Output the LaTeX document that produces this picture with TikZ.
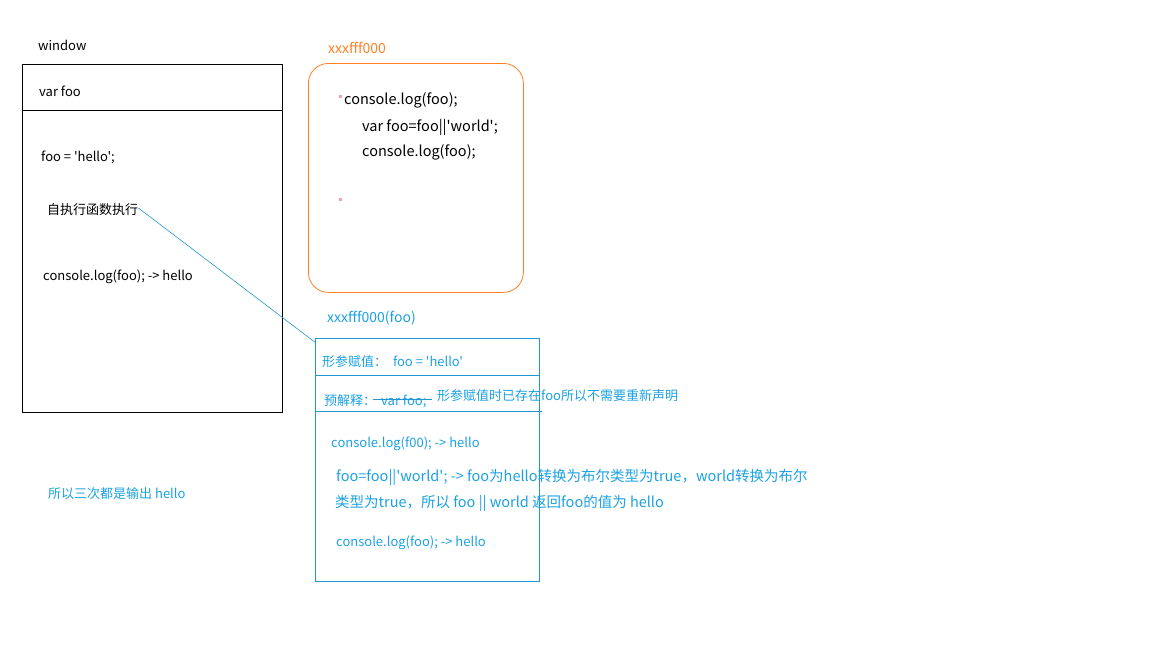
\documentclass[tikz,border=0pt]{standalone}
\usepackage{fontspec}
\setmainfont{Noto Sans CJK SC}[Ligatures=TeXOff]
\definecolor{myblue}{RGB}{27,161,226}
\definecolor{lineblue}{RGB}{33,150,211}
\definecolor{myorange}{RGB}{255,128,39}
\definecolor{mypink}{RGB}{248,160,170}
\begin{document}
\begin{tikzpicture}[x=1pt,y=-1pt,
  txt/.style={anchor=west,inner sep=0pt,font=\fontsize{13}{15}\selectfont},
  bigtxt/.style={anchor=west,inner sep=0pt,font=\fontsize{14.5}{17}\selectfont},
  lbl/.style={anchor=west,inner sep=0pt,font=\fontsize{14}{16}\selectfont},
  bluetxt/.style={txt,text=myblue},
  bigblue/.style={bigtxt,text=myblue},
  blk/.style={draw=black,line width=0.8pt},
  blu/.style={draw=lineblue,line width=0.8pt}]
\useasboundingbox (0,0) rectangle (1152,648);
% window
\node[txt] (win) at (38,45) {window};
\node[blk,rectangle,minimum width=260pt,minimum height=348pt,anchor=north west,inner sep=0pt] (winbox) at (22,64) {};
\coordinate (wl) at (22,110);
\coordinate (wr) at (282,110);
\draw[blk] (wl) -- (wr);
\node[txt] (varfoo) at (39,91) {var foo};
\node[txt] (assign) at (41,157) {foo = 'hello';};
\node[txt] (selfexec) at (47,210) {自执行函数执行};
\node[txt] (log1) at (43,277) {console.log(foo); -> hello};
\node[bluetxt] (concl) at (48,494) {所以三次都是输出 hello};
% orange function box
\node[lbl,text=myorange] (fnname) at (328,48) {xxxfff000};
\node[draw=myorange,line width=0.8pt,rounded corners=20pt,minimum width=215pt,minimum height=229pt,anchor=north west,inner sep=0pt] (fnbox) at (308,63) {};
\node[bigtxt] (c1) at (344,100) {console.log(foo);};
\node[bigtxt] (c2) at (362,127) {var foo=foo||'world';};
\node[bigtxt] (c3) at (362,152) {console.log(foo);};
\fill[mypink] (339,95) rectangle (342,98);
\fill[mypink] (339,198) rectangle (342,201);
% blue scope box
\node[lbl,text=myblue] (scname) at (327,318) {xxxfff000(foo)};
\node[blu,rectangle,minimum width=224pt,minimum height=243pt,anchor=north west,inner sep=0pt] (scbox) at (315,338) {};
\coordinate (l1a) at (315,375);
\coordinate (l1b) at (539,375);
\coordinate (l2a) at (315,411);
\coordinate (l2b) at (542,411);
\draw[blu] (l1a) -- (l1b);
\draw[blu] (l2a) -- (l2b);
\node[bluetxt] (param) at (322,362) {形参赋值：\ \ foo = 'hello'};
\node[bluetxt] (pre) at (324,401) {预解释：};
\node[bluetxt] (prevar) at (381,401) {var foo;};
\coordinate (s1) at (373,399);
\coordinate (s2) at (432,399);
\draw[lineblue,line width=0.8pt] (s1) -- (s2);
\node[bluetxt] (note) at (437,396) {形参赋值时已存在foo所以不需要重新声明};
\node[bluetxt] (log2) at (331,444) {console.log(f00); -> hello};
\node[bigblue] (expl1) at (336,477) {foo=foo||'world'; -> foo为hello转换为布尔类型为true，world转换为布尔};
\node[bigblue] (expl2) at (335,503) {类型为true，所以 foo || world 返回foo的值为 hello};
\node[bluetxt] (log3) at (336,543) {console.log(foo); -> hello};
% connector
\coordinate (cend) at (316,343);
\draw[lineblue,line width=0.6pt] (selfexec.east) ++(0,-2) -- (cend);
\end{tikzpicture}
\end{document}
